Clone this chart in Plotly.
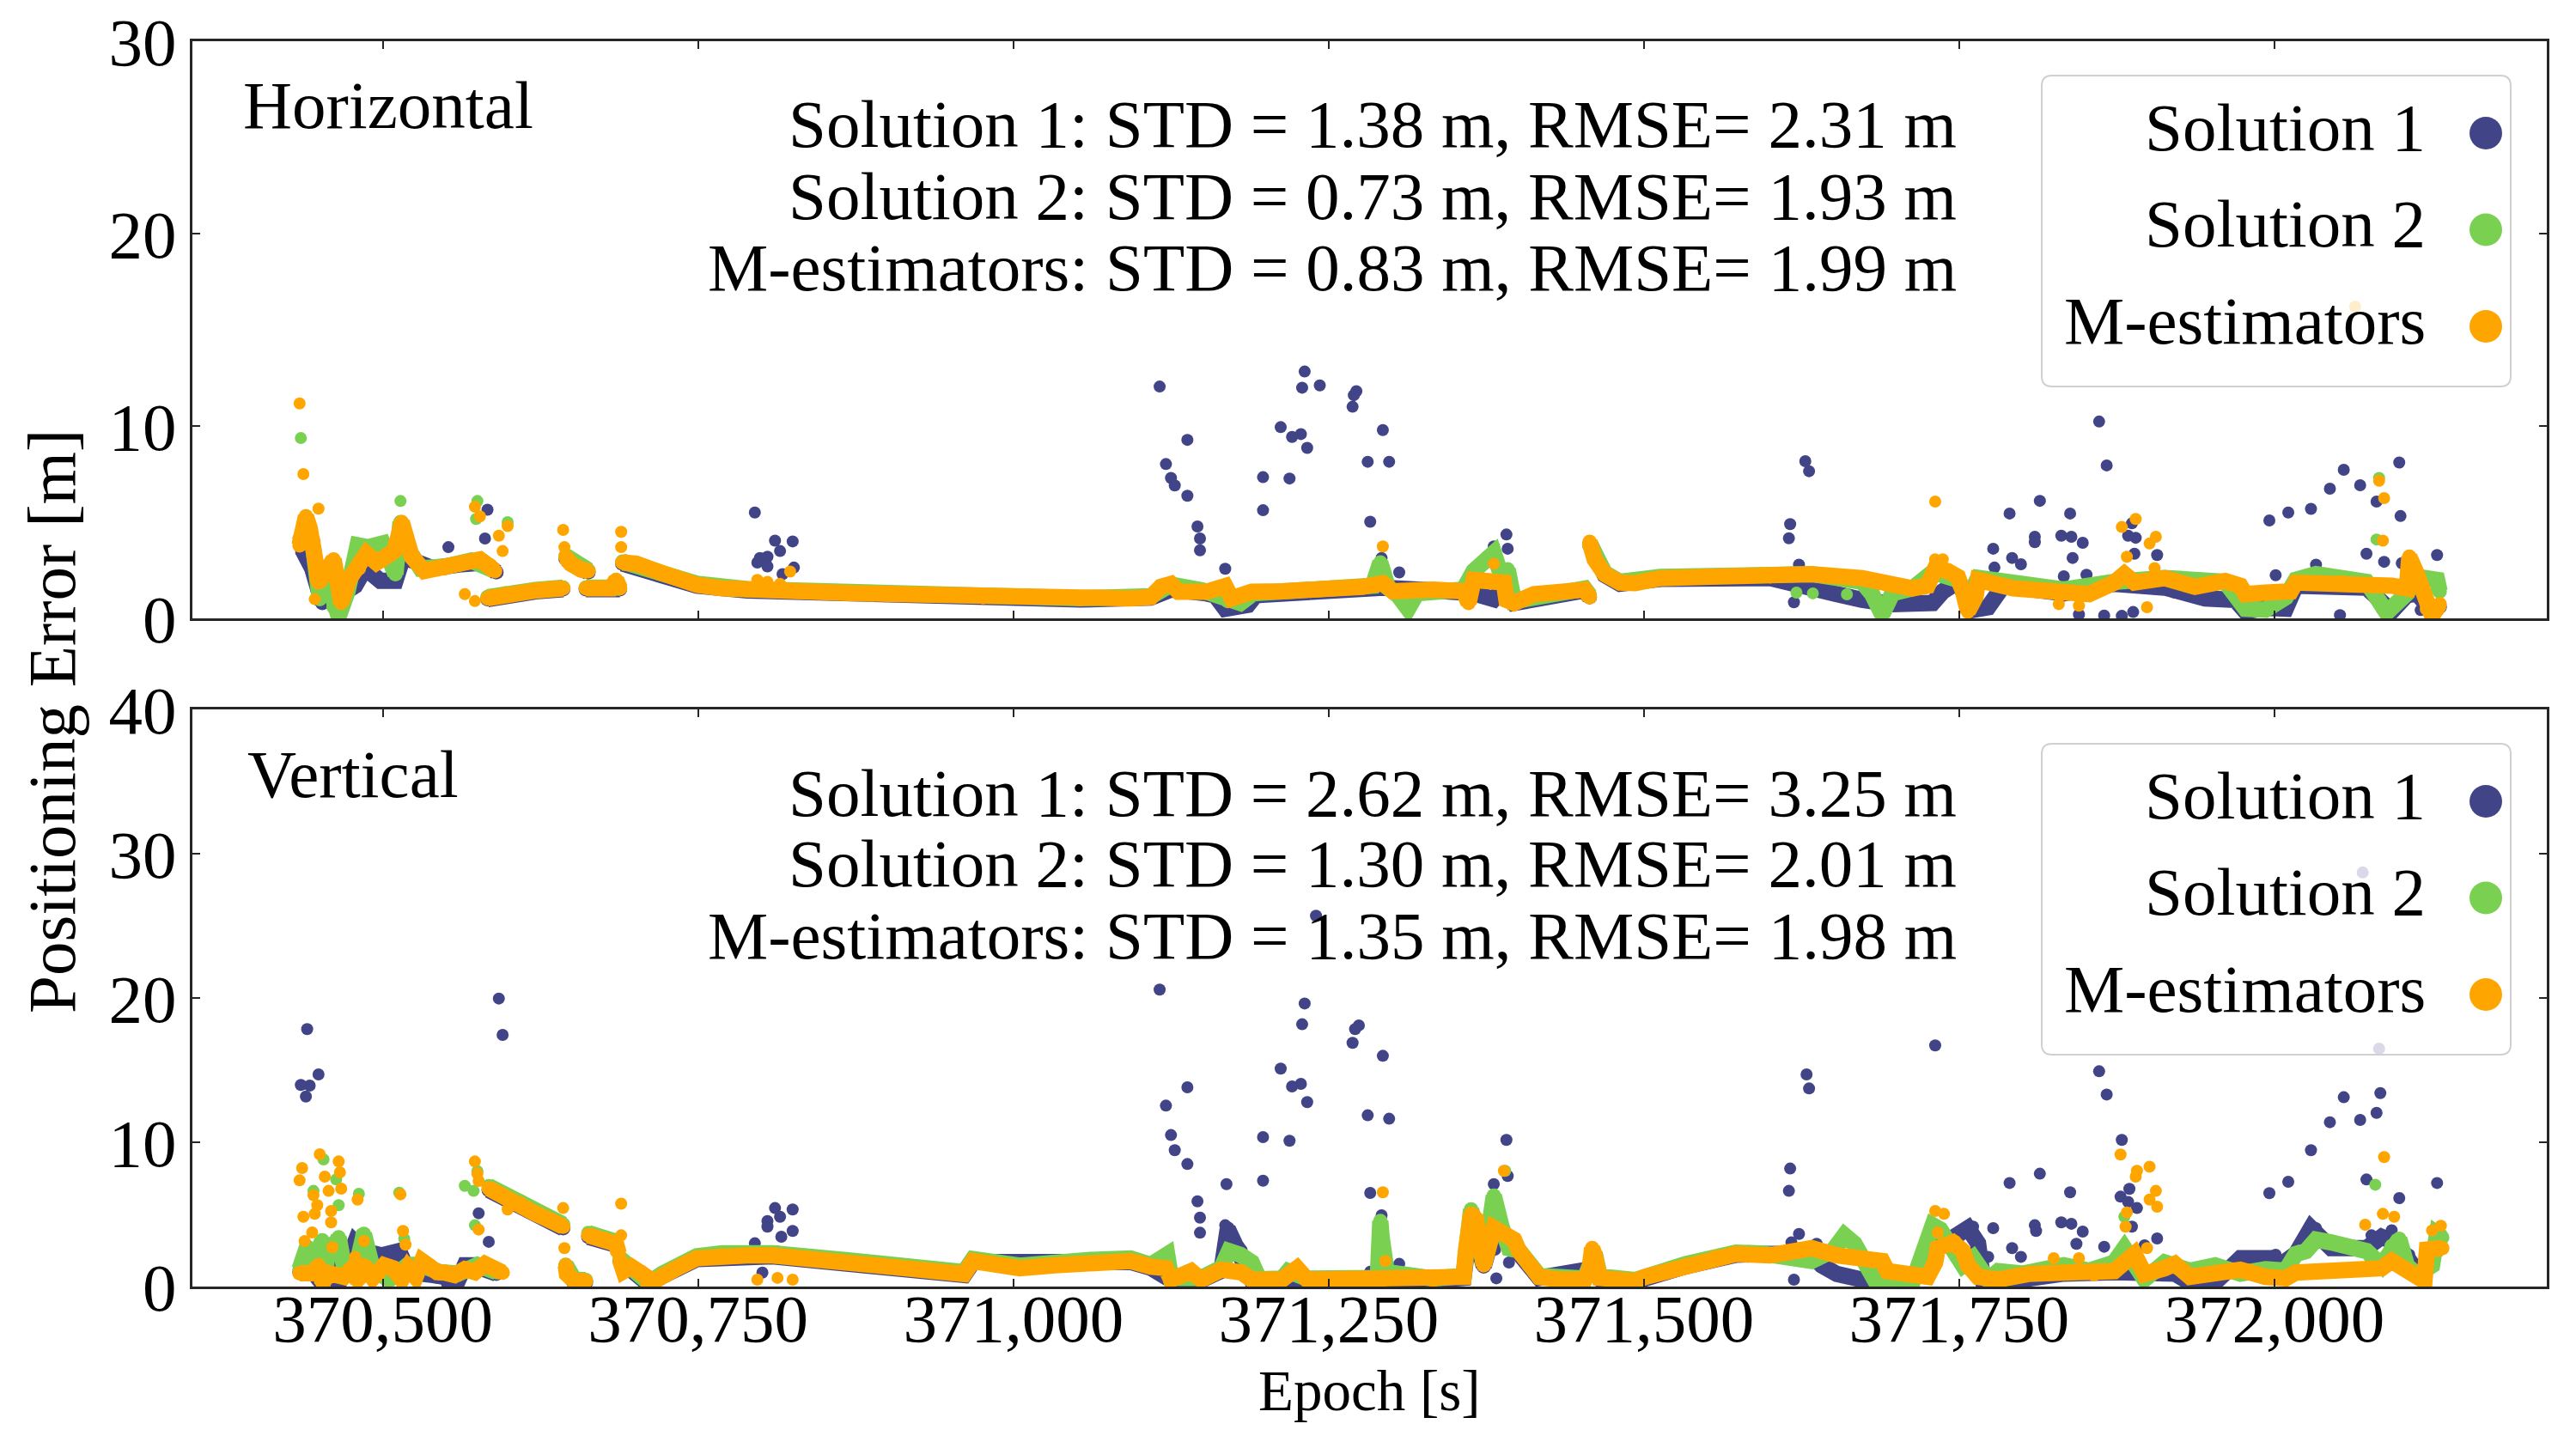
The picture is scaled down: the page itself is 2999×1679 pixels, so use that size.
import plotly.graph_objects as go
from plotly.subplots import make_subplots

# ---- data: (epoch [s], error [m]); None splits a track ----
GAP = (None, None)

# Horizontal, continuous tracks
h_sol1_track = [
    (370436, 3.6), (370444, 2.6), (370452, 0.8), (370458, 2.8), (370466, 1.2), (370478, 1.7),
    (370486, 2.6), (370498, 1.95), (370510, 1.95), (370516, 3.2), (370524, 3.0), (370540, 2.6),
    (370560, 2.8), (370580, 2.9), (370590, 2.4), GAP,
    (370583, 1.0), (370597, 1.22), (370621, 1.4), (370643, 1.52), GAP,
    (370645, 3.1), (370657, 2.5), (370663, 2.4), GAP,
    (370661, 1.52), (370688, 1.52), GAP,
    (370690, 2.85), (370717, 2.4), (370733, 2.0), (370749, 1.7), (370789, 1.45), (370869, 1.3),
    (370976, 1.08), (371053, 0.98), (371109, 1.08), (371125, 1.5), (371153, 1.3), (371160, 1.2),
    (371168, 0.5), (371177, 0.6), (371186, 0.7), (371192, 1.2), (371245, 1.45), (371293, 1.6),
    (371333, 1.45), (371357, 1.38), (371365, 1.3), (371381, 1.0), (371389, 1.6), (371397, 0.8),
    (371453, 1.45), (371457, 1.1), GAP,
    (371457, 3.9), (371469, 2.25), (371481, 1.8), (371513, 2.05), (371600, 2.1), (371633, 1.7),
    (371653, 1.26), (371673, 0.96), (371697, 0.74), (371729, 0.8), (371737, 1.4), (371749, 1.9),
    (371761, 0.44), (371773, 0.58), (371785, 1.7), (371833, 1.3), (371873, 1.8), (371913, 1.6),
    (371921, 1.41), (371945, 1.04), (371969, 0.96), (371977, 0.36), (371993, 0.55), (372009, 0.5),
    (372017, 1.7), (372073, 1.6), (372081, 1.11), (372093, 0.36), (372105, 1.2), (372113, 1.3),
    (372125, 0.4), (372131, 0.6),
]
h_sol2_track = [
    (370434, 4.0), (370440, 5.0), (370445, 3.6), (370450, 1.0), (370456, 2.0), (370461, 0.6),
    (370465, 0.1), (370472, 1.4), (370480, 3.8), (370488, 3.7), (370500, 3.9), (370510, 2.3),
    (370514, 5.0), (370520, 3.6), (370530, 2.6), (370550, 2.7), (370570, 3.0), (370588, 2.5), GAP,
    (370583, 1.1), (370597, 1.3), (370621, 1.48), (370643, 1.6), GAP,
    (370645, 3.25), (370657, 2.6), (370663, 2.5), GAP,
    (370661, 1.6), (370688, 1.6), GAP,
    (370690, 2.95), (370717, 2.5), (370733, 2.15), (370749, 1.8), (370789, 1.52), (370869, 1.37),
    (370976, 1.16), (371053, 1.05), (371109, 1.15), (371125, 1.75), (371150, 1.45), (371170, 0.9),
    (371180, 0.8), (371190, 1.3), (371245, 1.55), (371285, 1.7), (371291, 2.9), (371297, 1.6),
    (371305, 1.2), (371313, 0.5), (371320, 1.3), (371357, 1.5), (371365, 2.46), (371381, 3.4),
    (371389, 1.8), (371392, 2.54), (371397, 0.9), (371453, 1.55), (371457, 1.2), GAP,
    (371457, 3.9), (371469, 2.35), (371481, 1.9), (371513, 2.15), (371600, 2.25), (371633, 2.3),
    (371673, 1.9), (371681, 1.26), (371689, 0.2), (371697, 1.3), (371713, 1.56), (371729, 2.4),
    (371749, 2.0), (371757, 1.0), (371765, 2.1), (371833, 1.5), (371873, 1.9), (371913, 2.1),
    (371961, 1.9), (371969, 1.3), (371977, 0.5), (371993, 0.45), (372009, 1.1), (372017, 2.0),
    (372033, 2.3), (372073, 1.9), (372080, 1.2), (372089, 0.3), (372105, 1.3), (372113, 2.16),
    (372129, 2.0), (372131, 1.4),
]
h_mest_track = [
    (370434, 3.8), (370439, 5.3), (370442, 4.7), (370445, 4.0), (370447, 2.8), (370449, 1.86),
    (370454, 2.3), (370461, 3.06), (370465, 1.56), (370467, 0.8), (370473, 2.0), (370481, 2.6),
    (370487, 3.36), (370495, 2.9), (370501, 3.2), (370509, 3.5), (370513, 4.4), (370515, 5.0),
    (370519, 4.1), (370523, 3.2), (370533, 2.46), (370549, 2.6), (370565, 2.9), (370577, 3.06),
    (370585, 2.76), (370589, 2.46), GAP,
    (370583, 1.04), (370597, 1.26), (370621, 1.44), (370643, 1.56), GAP,
    (370645, 3.2), (370649, 2.84), (370657, 2.54), (370663, 2.46), GAP,
    (370661, 1.56), (370681, 1.56), (370685, 2.0), (370688, 1.56), GAP,
    (370690, 2.9), (370701, 2.84), (370717, 2.46), (370733, 2.09), (370749, 1.74), (370769, 1.56),
    (370789, 1.47), (370829, 1.38), (370869, 1.32), (370909, 1.26), (370949, 1.19), (370976, 1.11),
    (371013, 1.11), (371053, 1.0), (371093, 1.04), (371109, 1.11), (371117, 1.64), (371125, 1.79),
    (371131, 1.38), (371153, 1.38), (371168, 1.68), (371173, 1.04), (371189, 1.38), (371213, 1.41),
    (371245, 1.49), (371277, 1.64), (371293, 1.83), (371301, 1.41), (371333, 1.49), (371357, 1.41),
    (371361, 0.8), (371365, 2.0), (371389, 1.86), (371391, 0.96), (371397, 0.8), (371413, 1.26),
    (371453, 1.49), (371457, 1.11), GAP,
    (371457, 3.97), (371461, 3.06), (371469, 2.3), (371481, 1.86), (371493, 1.83), (371513, 2.09),
    (371553, 2.16), (371600, 2.19), (371633, 2.3), (371673, 2.09), (371689, 1.86), (371713, 1.56),
    (371725, 1.7), (371731, 2.6), (371741, 2.46), (371749, 2.16), (371753, 1.41), (371757, 0.36),
    (371763, 1.11), (371765, 2.0), (371793, 1.56), (371833, 1.34), (371853, 1.26), (371873, 1.86),
    (371881, 2.3), (371889, 1.86), (371913, 2.09), (371937, 1.64), (371961, 1.94), (371973, 1.7),
    (371977, 1.26), (371993, 1.34), (372013, 1.41), (372017, 1.86), (372053, 1.86), (372093, 1.7),
    (372105, 1.56), (372107, 3.2), (372113, 2.3), (372117, 1.56), (372121, 0.5), (372125, 0.13),
    (372131, 0.74),
]

# Horizontal, isolated epochs
h_sol1_dots = [
    (370583, 5.65), (370581, 4.15), (370552, 3.7), (370795, 5.5), (370811, 4.04), (370825, 4.0),
    (370815, 3.5), (370799, 3.14), (370805, 3.2), (370797, 2.9), (370805, 2.7), (370817, 2.3),
    (370826, 2.64), (370457, 2.8),
    (371116, 12.05), (371231, 12.83), (371229, 11.99), (371243, 12.11), (371272, 11.81),
    (371270, 11.6), (371269, 11.0), (371212, 9.94), (371228, 9.58), (371221, 9.43), (371233, 8.86),
    (371293, 9.79), (371281, 8.14), (371298, 8.14), (371138, 9.28), (371121, 8.02), (371125, 7.3),
    (371128, 6.91), (371138, 6.37), (371198, 7.34), (371219, 7.27), (371198, 5.62), (371283, 5.02),
    (371146, 4.78), (371148, 4.15), (371148, 3.54), (371168, 2.58), (371391, 4.36), (371392, 3.62),
    (371381, 3.74), (371292, 3.14), (371306, 2.39), (371289, 2.39), (371169, 0.43),
    (371628, 8.17), (371631, 7.65), (371616, 4.9), (371615, 4.16), (371623, 2.79), (371619, 0.84),
    (371861, 10.23), (371867, 7.95), (371814, 6.11), (371790, 5.45), (371838, 5.45), (371810, 4.24),
    (371810, 3.96), (371831, 4.3), (371839, 4.24), (371848, 3.93), (371777, 3.62), (371840, 3.14),
    (371792, 3.14), (371799, 2.81), (371778, 2.64), (371833, 2.19), (371851, 2.27), (371887, 4.94),
    (371884, 4.3), (371890, 4.19), (371889, 3.36), (371907, 3.29), (371996, 5.09), (372011, 5.5),
    (372029, 5.69), (372044, 6.74), (372055, 7.72), (372068, 6.92), (372099, 8.1), (372100, 5.32),
    (372081, 6.07), (372073, 3.36), (372087, 2.94), (372101, 2.87), (372129, 3.29), (372033, 2.79),
    (372001, 2.24), (372052, 0.17), (372085, 0.5), (372116, 0.43), (371879, 0.13), (371845, 0.2),
    (371865, 0.15), (371888, 0.33),
]
h_sol2_dots = [
    (370435, 9.37), (370514, 6.1), (370575, 6.1), (370574, 5.17), (370599, 5.0), (372083, 7.3),
    (372081, 4.1), (371621, 1.34), (371634, 1.3), (371661, 1.25), (371911, 2.2),
]
h_mest_dots = [
    (370434, 11.17), (370437, 7.5), (370449, 5.7), (370437, 4.9), (370446, 1.0), (370565, 1.26),
    (370573, 0.9), (370573, 5.8), (370577, 5.3), (370592, 4.3), (370599, 4.8), (370595, 3.5),
    (370643, 4.6), (370644, 3.7), (370689, 4.5), (370689, 3.7), (370797, 2.0), (370805, 1.9),
    (370815, 1.8), (370823, 2.43), (371293, 3.74), (371381, 2.84), (371731, 6.07), (371731, 3.07),
    (371737, 3.07), (371879, 4.75), (371890, 5.17), (371901, 3.89), (371906, 4.24), (371883, 3.2),
    (371905, 2.61), (372083, 7.15), (372087, 6.25), (372086, 4.04), (371899, 0.58), (371845, 0.66),
    (371829, 0.74), (371755, 1.0), (372064, 16.2),
]

# Vertical, continuous tracks
v_sol1_track = [
    (370434, 1.0), (370445, 1.0), (370452, 0.2), (370460, 1.96), (370465, 0.2), (370478, 3.06),
    (370485, 2.46), (370499, 2.16), (370513, 2.46), (370520, 1.0), (370540, 0.8), (370560, 0.5),
    (370565, 1.47), (370572, 1.47), (370590, 0.9), GAP,
    (370584, 6.7), (370609, 5.65), (370643, 4.05), GAP,
    (370645, 1.4), (370652, 0.3), (370661, 0.3), GAP,
    (370663, 3.45), (370685, 2.9), GAP,
    (370688, 1.8), (370711, 0.15), (370721, 0.7), (370749, 1.9), (370809, 2.1), (370869, 1.6),
    (370961, 0.8), (370968, 1.7), (371093, 1.7), (371109, 1.3), (371125, 0.45), (371149, 0.45),
    (371165, 1.1), (371170, 4.0), (371175, 3.0), (371180, 2.5), (371186, 1.5), (371189, 0.45),
    (371333, 0.45), (371357, 0.6), (371363, 4.9), (371373, 1.4), (371381, 3.9), (371401, 2.3),
    (371417, 0.6), (371457, 1.2), (371465, 0.55), (371493, 0.35), (371533, 1.4), (371573, 2.2),
    (371593, 2.26), (371633, 2.26), (371641, 1.47), (371653, 0.87), (371673, 0.48), (371693, 0.28),
    (371713, 0.77), (371725, 1.47), (371731, 2.6), (371749, 3.45), (371757, 4.05), (371765, 3.0),
    (371769, 0.48), (371785, 0.3), (371805, 0.6), (371833, 0.9), (371873, 1.0), (371921, 0.9),
    (371933, 0.28), (371953, 0.28), (371973, 1.96), (371997, 1.96), (372005, 1.5), (372017, 2.26),
    (372029, 4.05), (372035, 3.5), (372045, 2.66), (372073, 2.66), (372085, 3.45), (372097, 3.0),
    (372105, 1.9), (372113, 1.07), (372120, 1.5),
]
v_sol2_track = [
    (370434, 1.2), (370440, 2.76), (370445, 1.57), (370452, 3.2), (370458, 2.06), (370465, 3.41),
    (370470, 1.0), (370478, 0.97), (370485, 3.65), (370492, 1.2), (370505, 0.48), (370513, 1.2),
    (370520, 1.5), (370530, 1.5), (370545, 1.0), (370560, 0.9), (370575, 1.5), (370590, 1.0), GAP,
    (370584, 6.95), (370609, 5.9), (370629, 4.9), (370643, 4.3), GAP,
    (370645, 1.5), (370652, 0.45), (370661, 0.45), GAP,
    (370663, 3.7), (370685, 3.1), GAP,
    (370688, 1.95), (370711, 0.25), (370721, 0.85), (370749, 2.1), (370769, 2.3), (370809, 2.3),
    (370869, 1.82), (370909, 1.42), (370961, 1.0), (370968, 1.9), (371005, 1.45), (371061, 1.85),
    (371093, 1.95), (371109, 1.5), (371122, 2.22), (371125, 0.6), (371149, 0.6), (371165, 1.3),
    (371171, 2.46), (371180, 2.2), (371189, 1.67), (371195, 0.5), (371213, 0.55), (371218, 1.07),
    (371233, 0.55), (371289, 0.6), (371291, 4.54), (371292, 3.45), (371296, 1.0), (371333, 0.55),
    (371357, 0.75), (371363, 5.34), (371373, 1.6), (371381, 6.29), (371387, 4.2), (371393, 2.66),
    (371401, 2.5), (371417, 0.75), (371453, 0.55), (371457, 1.4), (371461, 2.3), (371465, 0.7),
    (371493, 0.45), (371533, 1.55), (371573, 2.35), (371593, 2.3), (371633, 1.77), (371650, 2.5),
    (371659, 3.55), (371667, 2.96), (371675, 1.96), (371683, 0.48), (371713, 0.28), (371729, 4.25),
    (371735, 3.95), (371753, 1.47), (371761, 2.0), (371773, 0.48), (371781, 1.07), (371801, 0.9),
    (371833, 1.47), (371853, 1.1), (371873, 1.67), (371881, 2.66), (371897, 0.5), (371913, 1.67),
    (371933, 1.1), (371953, 1.47), (371973, 0.9), (371993, 1.2), (372009, 1.1), (372017, 2.26),
    (372025, 2.46), (372033, 3.25), (372045, 3.06), (372073, 2.46), (372085, 1.47), (372093, 2.8),
    (372099, 3.3), (372105, 1.47), (372113, 0.8), (372125, 1.47), (372129, 3.65), (372133, 3.4),
]
v_mest_track = [
    (370434, 0.93), (370445, 0.93), (370449, 1.47), (370452, 0.3), (370458, 0.9), (370469, 0.67),
    (370475, 1.2), (370480, 0.4), (370485, 1.47), (370492, 0.6), (370501, 1.47), (370508, 1.27),
    (370515, 0.5), (370520, 1.3), (370526, 0.67), (370531, 1.77), (370537, 1.4), (370543, 1.0),
    (370549, 0.97), (370557, 0.8), (370565, 1.2), (370573, 1.0), (370581, 1.57), (370589, 1.2),
    (370595, 0.97), GAP,
    (370584, 6.8), (370589, 6.53), (370600, 6.0), (370609, 5.74), (370620, 5.1), (370629, 4.74),
    (370643, 4.15), GAP,
    (370645, 1.47), (370646, 0.87), (370652, 0.38), (370661, 0.38), GAP,
    (370663, 3.55), (370675, 3.3), (370685, 2.96), (370687, 2.3), GAP,
    (370688, 1.86), (370691, 1.07), (370697, 1.37), (370705, 1.0), (370709, 0.67), (370711, 0.18),
    (370721, 0.77), (370733, 1.27), (370749, 1.96), (370769, 2.16), (370789, 2.16), (370809, 2.16),
    (370829, 1.96), (370869, 1.67), (370909, 1.27), (370940, 1.0), (370961, 0.87), (370968, 1.77),
    (370976, 1.7), (371005, 1.27), (371033, 1.47), (371061, 1.67), (371093, 1.77), (371109, 1.37),
    (371121, 1.27), (371125, 0.48), (371141, 1.07), (371149, 0.48), (371165, 1.17), (371181, 0.97),
    (371189, 0.48), (371213, 0.48), (371225, 1.27), (371233, 0.48), (371253, 0.48), (371293, 0.48),
    (371333, 0.48), (371357, 0.67), (371359, 2.56), (371363, 5.04), (371367, 4.64), (371373, 1.47),
    (371381, 4.05), (371389, 3.65), (371397, 3.25), (371401, 2.46), (371409, 1.47), (371417, 0.67),
    (371433, 0.48), (371453, 0.48), (371457, 1.27), (371459, 2.66), (371461, 2.16), (371465, 0.6),
    (371493, 0.38), (371501, 0.67), (371533, 1.47), (371557, 2.06), (371573, 2.26), (371600, 2.16),
    (371625, 2.46), (371633, 2.66), (371653, 2.16), (371689, 1.77), (371693, 1.07), (371713, 0.87),
    (371725, 0.67), (371731, 1.67), (371733, 2.66), (371745, 3.06), (371753, 2.46), (371757, 1.47),
    (371765, 0.67), (371781, 0.48), (371805, 0.87), (371833, 0.97), (371857, 0.87), (371873, 1.07),
    (371889, 2.26), (371897, 0.87), (371913, 1.27), (371921, 1.57), (371933, 0.67), (371953, 0.87),
    (371973, 1.17), (371993, 0.67), (372009, 0.57), (372017, 0.97), (372053, 1.17), (372085, 1.27),
    (372093, 1.77), (372105, 1.07), (372113, 0.87), (372119, 0.38), (372121, 2.56), (372133, 2.66),
]

# Vertical, isolated epochs
v_sol1_dots = [
    (370440, 17.84), (370435, 13.97), (370442, 13.93), (370449, 14.7), (370439, 13.17),
    (370592, 19.96), (370595, 17.44), (370576, 5.08), (370584, 3.1), (370811, 5.44), (370825, 5.34),
    (370815, 4.84), (370805, 4.54), (370805, 4.15), (370816, 3.45), (370825, 3.85), (370795, 3.0),
    (370813, 2.42), (370801, 0.97), (370499, 2.16), (370513, 2.46), (370477, 3.06), (370485, 2.46),
    (370461, 1.96), (370565, 1.47), (370572, 1.47), (370551, 0.18), (370463, 0.18),
    (371116, 20.58), (371231, 19.62), (371229, 18.18), (371274, 18.1), (371271, 17.84),
    (371269, 16.89), (371293, 15.99), (371212, 15.1), (371228, 14.05), (371221, 13.87),
    (371233, 12.78), (371138, 13.81), (371121, 12.54), (371125, 10.5), (371128, 9.45), (371138, 8.49),
    (371198, 10.36), (371219, 10.1), (371198, 7.34), (371281, 11.87), (371298, 11.63), (371169, 7.1),
    (371146, 5.91), (371148, 4.78), (371148, 3.73), (371168, 4.25), (371172, 3.29), (371179, 2.76),
    (371187, 1.47), (371283, 6.49), (371292, 4.94), (371289, 3.16), (371306, 1.57), (371283, 1.03),
    (371391, 10.16), (371392, 7.66), (371381, 7.1), (371382, 2.56), (371375, 2.16), (371393, 1.67),
    (371383, 0.57), (371240, 25.7),
    (371629, 14.7), (371631, 13.73), (371616, 8.18), (371615, 6.63), (371623, 3.65), (371617, 3.06),
    (371637, 2.96), (371619, 0.48), (371731, 16.71), (371861, 14.92), (371867, 13.31),
    (371879, 10.16), (371885, 6.77), (371878, 6.23), (371884, 5.87), (371891, 5.44), (371887, 4.15),
    (371907, 3.33), (371897, 2.86), (371814, 7.82), (371790, 7.18), (371838, 6.53), (371831, 4.45),
    (371839, 4.35), (371848, 3.81), (371810, 4.25), (371811, 3.85), (371777, 4.05), (371761, 4.15),
    (371755, 4.05), (371792, 2.66), (371799, 2.06), (371773, 2.06), (371843, 2.96), (371865, 2.76),
    (371996, 6.47), (372011, 7.26), (372029, 9.45), (372044, 11.39), (372055, 13.12),
    (372068, 11.55), (372081, 12.04), (372084, 13.41), (372073, 7.42), (372099, 6.13),
    (372129, 7.18), (372033, 4.05), (372001, 2.2), (372077, 3.55), (372093, 3.9), (372107, 2.2),
    (372115, 1.47), (372083, 16.49), (372070, 28.7),
]
v_sol2_dots = [
    (370453, 8.81), (370445, 6.63), (370463, 7.42), (370465, 5.64), (370452, 3.2), (370466, 2.06),
    (370457, 1.57), (370481, 6.43), (370483, 3.65), (370565, 6.98), (370572, 6.63), (370575, 8.0),
    (370573, 4.25), (370513, 6.5), (370517, 3.3), (370507, 0.48), (370473, 0.97), (371122, 2.22),
    (371291, 4.54), (371292, 3.45), (371289, 2.26), (371381, 6.29), (371390, 8.02), (371363, 5.34),
    (371393, 2.66), (371171, 2.46), (371180, 2.2), (371189, 1.67), (371218, 1.07), (372080, 7.06),
    (371881, 4.84),
]
v_mest_dots = [
    (370436, 8.21), (370434, 7.36), (370450, 9.17), (370454, 7.62), (370465, 8.67), (370466, 7.92),
    (370457, 6.63), (370467, 6.79), (370445, 6.33), (370448, 5.64), (370446, 5.04), (370437, 4.84),
    (370459, 5.24), (370459, 4.45), (370444, 3.75), (370438, 3.15), (370460, 2.72), (370480, 6.03),
    (370514, 6.39), (370516, 3.85), (370518, 2.9), (370485, 3.15), (370478, 2.06), (370573, 8.67),
    (370575, 7.82), (370576, 7.32), (370576, 3.95), (370599, 5.34), (370643, 5.44), (370644, 2.66),
    (370689, 5.74), (370689, 3.55), (370797, 0.48), (370813, 0.6), (370825, 0.48), (371293, 6.53),
    (371295, 1.77), (371389, 8.02), (371731, 5.24), (371738, 5.04), (371733, 3.75), (371747, 3.16),
    (371878, 9.15), (371891, 8.02), (371890, 7.62), (371901, 8.31), (371906, 6.63), (371901, 6.03),
    (371907, 5.54), (371883, 5.14), (371882, 4.15), (371899, 2.66), (372087, 8.97), (372086, 5.04),
    (372095, 4.84), (372091, 1.77), (372072, 4.29), (372125, 3.89), (372132, 4.21), (371825, 1.96),
    (371845, 1.96),
]

series_names = ["Solution 1", "Solution 2", "M-estimators"]
series_colors = ["#414487", "#7AD151", "#FFA500"]

h_stats = ["Solution 1: STD = 1.38 m, RMSE= 2.31 m",
           "Solution 2: STD = 0.73 m, RMSE= 1.93 m",
           "M-estimators: STD = 0.83 m, RMSE= 1.99 m"]
v_stats = ["Solution 1: STD = 2.62 m, RMSE= 3.25 m",
           "Solution 2: STD = 1.30 m, RMSE= 2.01 m",
           "M-estimators: STD = 1.35 m, RMSE= 1.98 m"]

epoch_ticks = [370500, 370750, 371000, 371250, 371500, 371750, 372000]
epoch_range = [370349, 372216]

# ---- geometry in window pixels (page body margin is removed below) ----
W, H = 2999, 1679
AX_L, AX_R, AX_T, AX_B = 224, 2965, 48, 1498
ML, MT, MR, MB = AX_L, AX_T, W - AX_R, H - AX_B
PW, PH = AX_R - AX_L, AX_B - AX_T
FONT = "Liberation Serif"
AXC = "#262626"


def px_x(x):
    return (x - AX_L) / PW


def px_y(y):
    return (AX_B - y) / PH


fig = make_subplots(rows=2, cols=1, shared_xaxes=True, vertical_spacing=106 / PH)


def add_series(row, track, dots, color, name):
    t, e = zip(*track)
    fig.add_trace(go.Scatter(
        x=list(t), y=list(e), mode="lines+markers", name=name, showlegend=False,
        connectgaps=False, line=dict(color=color, width=19),
        marker=dict(color=color, size=17, line=dict(width=0)),
        hoverinfo="skip"), row=row, col=1)
    t, e = zip(*dots)
    fig.add_trace(go.Scatter(
        x=list(t), y=list(e), mode="markers", name=name, showlegend=False,
        marker=dict(color=color, size=14, line=dict(width=0))), row=row, col=1)


tracks = [
    (1, [h_sol1_track, h_sol2_track, h_mest_track], [h_sol1_dots, h_sol2_dots, h_mest_dots]),
    (2, [v_sol1_track, v_sol2_track, v_mest_track], [v_sol1_dots, v_sol2_dots, v_mest_dots]),
]
for row, trk, dts in tracks:
    for i in range(3):
        add_series(row, trk[i], dts[i], series_colors[i], series_names[i])

axis_style = dict(
    showline=True, linewidth=2.5, linecolor=AXC, mirror="ticks",
    ticks="inside", ticklen=9, tickwidth=2, tickcolor=AXC,
    showgrid=False, zeroline=False, automargin=False, ticklabeloverflow="allow",
    tickfont=dict(family=FONT, size=79, color="black"),
)
fig.update_xaxes(range=epoch_range, tickvals=epoch_ticks, tickformat=",d",
                 ticklabelstandoff=-34, **axis_style)
fig.update_yaxes(dtick=10, tick0=0, ticklabelstandoff=0, **axis_style)
fig.update_yaxes(range=[0, 30], row=1, col=1)
fig.update_yaxes(range=[0, 40], row=2, col=1)

annotations = []
shapes = []
panel_offset = [0, 778]  # pixel shift from upper to lower panel
panel_label = ["Horizontal", "Vertical"]
panel_stats = [h_stats, v_stats]
label_left = [281, 286]

for p in range(2):
    dy = panel_offset[p]
    annotations.append(dict(
        text=panel_label[p], xref="paper", yref="paper", showarrow=False,
        x=px_x(label_left[p]), y=px_y(123 + dy), xanchor="left", yanchor="middle",
        font=dict(family=FONT, size=79, color="black")))
    for k, line in enumerate(panel_stats[p]):
        annotations.append(dict(
            text=line, xref="paper", yref="paper", showarrow=False,
            x=px_x(2280), y=px_y(145 + 83 * k + dy), xanchor="right", yanchor="middle",
            font=dict(family=FONT, size=79, color="black")))

    # legend box (text first, marker on the right)
    x0, x1 = px_x(2377), px_x(2923)
    yb, yt = px_y(450 + dy), px_y(88 + dy)
    rx, ry = 12 / PW, 12 / PH
    path = (f"M {x0 + rx},{yt} L {x1 - rx},{yt} Q {x1},{yt} {x1},{yt - ry} "
            f"L {x1},{yb + ry} Q {x1},{yb} {x1 - rx},{yb} L {x0 + rx},{yb} "
            f"Q {x0},{yb} {x0},{yb + ry} L {x0},{yt - ry} Q {x0},{yt} {x0 + rx},{yt} Z")
    shapes.append(dict(type="path", path=path, xref="paper", yref="paper", layer="above",
                       fillcolor="rgba(255,255,255,0.8)", line=dict(color="#d0d0d0", width=2)))
    for k in range(3):
        annotations.append(dict(
            text=series_names[k], xref="paper", yref="paper", showarrow=False,
            x=px_x(2826), y=px_y(148 + 112.5 * k + dy), xanchor="right", yanchor="middle",
            font=dict(family=FONT, size=79, color="black")))
        cy = 155 + 112.5 * k + dy
        shapes.append(dict(type="circle", xref="paper", yref="paper", layer="above",
                           x0=px_x(2894 - 19), x1=px_x(2894 + 19),
                           y0=px_y(cy + 19), y1=px_y(cy - 19),
                           fillcolor=series_colors[k], line=dict(width=0)))

annotations.append(dict(
    text="Epoch [s]", xref="paper", yref="paper", showarrow=False,
    x=0.5, y=px_y(1619), xanchor="center", yanchor="middle",
    font=dict(family=FONT, size=67, color="black")))
annotations.append(dict(
    text="Positioning Error [m]", xref="paper", yref="paper", showarrow=False,
    x=px_x(60), y=px_y(840), xanchor="center", yanchor="middle", textangle=-90,
    font=dict(family=FONT, size=79, color="black")))

fig.update_layout(
    width=W, height=H, margin=dict(l=ML, r=MR, t=MT, b=MB),
    plot_bgcolor="white", paper_bgcolor="white", showlegend=False,
    font=dict(family=FONT, color="black"),
    annotations=annotations, shapes=shapes,
)

fig.write_html("out.html", config={"displayModeBar": False},
               post_script="document.body.style.margin='0px';document.body.style.overflow='hidden';")
